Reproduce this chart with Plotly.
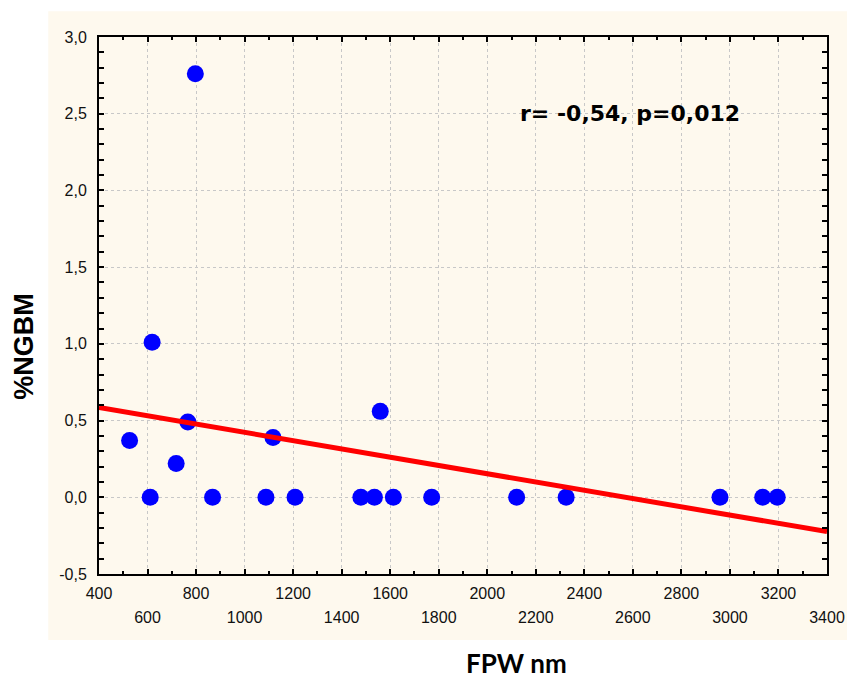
import plotly.graph_objects as go

# Data
fpw_nm = [526, 611, 619, 718, 766, 797, 868, 1088, 1117, 1208, 1479, 1535,
          1559, 1613, 1771, 2121, 2325, 2959, 3135, 3195]
ngbm_pct = [0.37, 0.0, 1.01, 0.22, 0.49, 2.76, 0.0, 0.0, 0.39, 0.0, 0.0, 0.0,
            0.56, 0.0, 0.0, 0.0, 0.0, 0.0, 0.0, 0.0]

fit_x = [400, 3400]
fit_y = [0.585, -0.224]

x_ticks_row1 = [400, 800, 1200, 1600, 2000, 2400, 2800, 3200]
x_ticks_row2 = [600, 1000, 1400, 1800, 2200, 2600, 3000, 3400]
y_ticks = [-0.5, 0.0, 0.5, 1.0, 1.5, 2.0, 2.5, 3.0]
y_tick_text = ["-0,5", "0,0", "0,5", "1,0", "1,5", "2,0", "2,5", "3,0"]

stat_text = "r= -0,54, p=0,012"

CREAM = "#FEF9EE"
GRID = "#c8c8c8"
TICKFONT = dict(family="Liberation Sans, Arial, sans-serif", size=16, color="#111111")

fig = go.Figure()
fig.add_trace(go.Scatter(
    x=fpw_nm, y=ngbm_pct, mode="markers",
    marker=dict(color="#0000FF", size=17, line=dict(width=0)),
    showlegend=False, xaxis="x", yaxis="y"))
fig.add_trace(go.Scatter(
    x=fit_x, y=fit_y, mode="lines",
    line=dict(color="#FF0000", width=5),
    showlegend=False, xaxis="x", yaxis="y"))
# invisible trace to activate second x axis (second row of labels)
fig.add_trace(go.Scatter(x=fit_x, y=fit_y, mode="lines", line=dict(width=0),
                         opacity=0, showlegend=False, hoverinfo="skip",
                         xaxis="x2", yaxis="y"))

fig.update_layout(
    width=847, height=679,
    margin=dict(l=99, r=20, t=37, b=105),
    paper_bgcolor="white",
    plot_bgcolor="white",
    showlegend=False,
    xaxis=dict(
        range=[400, 3400], tickmode="array",
        tickvals=x_ticks_row1 + x_ticks_row2,
        ticktext=[str(v) for v in x_ticks_row1] + ["" for _ in x_ticks_row2],
        tickfont=TICKFONT, ticks="inside", ticklen=5, tickwidth=1.5, tickcolor="black",
        showline=True, linecolor="black", linewidth=2, mirror="allticks",
        showgrid=True, gridcolor=GRID, griddash="dot", gridwidth=1,
        zeroline=False, automargin=False,
        minor=dict(dtick=100, tick0=0, ticks="inside", ticklen=3, tickcolor="black",
                   showgrid=False),
        ticklabelstandoff=4,
    ),
    xaxis2=dict(
        range=[400, 3400], overlaying="x", anchor="y", side="bottom",
        tickmode="array", tickvals=x_ticks_row2,
        ticktext=[str(v) for v in x_ticks_row2],
        tickfont=TICKFONT, ticks="", showline=False, showgrid=False, zeroline=False,
        ticklabelstandoff=32, automargin=False,
    ),
    yaxis=dict(
        range=[-0.5, 3.0], tickmode="array", tickvals=y_ticks, ticktext=y_tick_text,
        tickfont=TICKFONT, ticks="inside", ticklen=5, tickwidth=1.5, tickcolor="black",
        showline=True, linecolor="black", linewidth=2, mirror="allticks",
        showgrid=True, gridcolor=GRID, griddash="dot", gridwidth=1,
        zeroline=False, automargin=False,
        minor=dict(dtick=0.1, tick0=0, ticks="inside", ticklen=3, tickcolor="black",
                   showgrid=False),
        ticklabelstandoff=7,
    ),
    shapes=[dict(type="rect", xref="paper", yref="paper",
                 x0=-0.0697, x1=1.03, y0=-0.123, y1=1.048,
                 fillcolor=CREAM, line=dict(width=0), layer="below")],
    annotations=[
        dict(text="<b>" + stat_text + "</b>", x=2587, y=2.5, xref="x", yref="y",
             showarrow=False,
             font=dict(family="DejaVu Sans", size=22, color="black"),
             xanchor="center", yanchor="middle"),
        dict(text="<b>FPW nm</b>", x=0.574, y=-0.166, xref="paper", yref="paper",
             showarrow=False, font=dict(family="Lato", size=26, color="black"),
             xanchor="center", yanchor="middle"),
        dict(text="<b>%NGBM</b>", x=-0.103, y=0.423, xref="paper", yref="paper",
             showarrow=False, textangle=-90,
             font=dict(family="Liberation Sans", size=27, color="black"),
             xanchor="center", yanchor="middle"),
    ],
)

fig.write_html(
    "out.html",
    config={"displayModeBar": False},
    post_script="document.body.style.margin='0';document.body.style.padding='0';",
)
